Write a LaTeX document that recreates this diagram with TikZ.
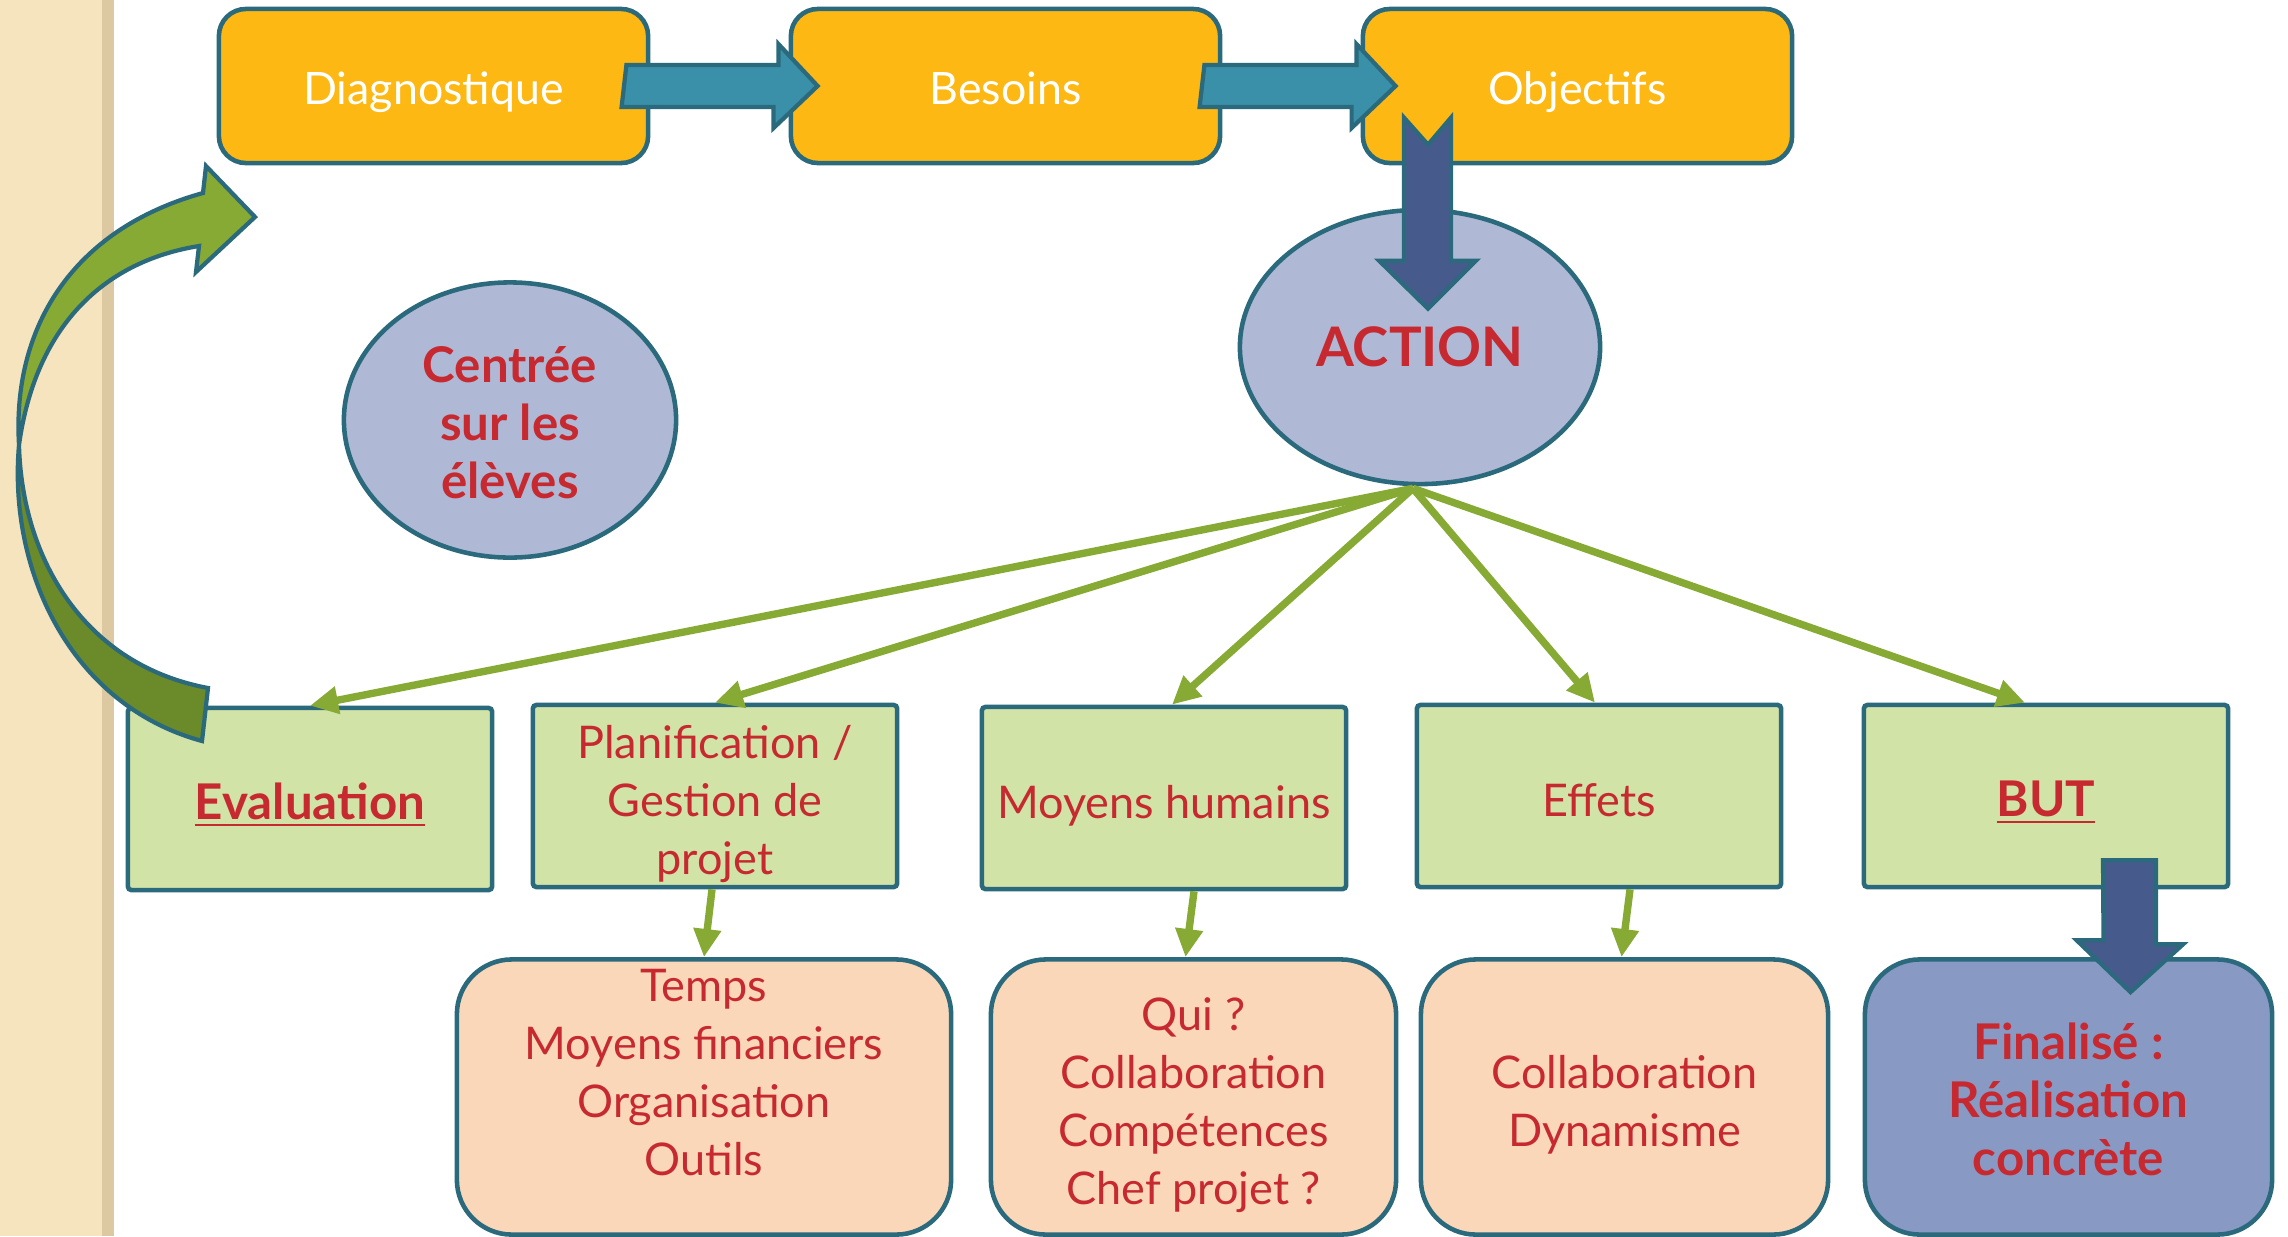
\documentclass[tikz,border=0pt]{standalone}
\usepackage{fontspec}
\setmainfont{Lato}
\usetikzlibrary{shapes.geometric,arrows.meta,calc}
\definecolor{edgec}{HTML}{2A6A7C}
\definecolor{orangec}{HTML}{FDB813}
\definecolor{tealc}{HTML}{3A90A8}
\definecolor{navyc}{HTML}{475A8C}
\definecolor{lavc}{HTML}{AFB9D6}
\definecolor{gfillc}{HTML}{D1E3A7}
\definecolor{peachc}{HTML}{FBD7B9}
\definecolor{blueboxc}{HTML}{8899C4}
\definecolor{redc}{HTML}{C62A30}
\definecolor{lgreenc}{HTML}{86AA34}
\definecolor{dgreenc}{HTML}{6B8A2A}
\definecolor{stripc}{HTML}{F5E4BE}
\definecolor{stripedgec}{HTML}{DCC9A2}
\begin{document}
\begin{tikzpicture}[x=0.01cm,y=-0.01cm,
  lineone/.style={text height=11.8pt,text depth=0pt},
  linetwo/.style={text height=28.3pt,text depth=0pt},
  linethree/.style={text height=44.8pt,text depth=0pt},
  linefour/.style={text height=61.3pt,text depth=0pt},
  linefive/.style={text height=77.8pt,text depth=0pt},
  topbox/.style={draw=edgec,line width=1.3pt,fill=orangec,rounded corners=0.27cm,
    minimum width=4.29cm,minimum height=1.54cm,text=white,font=\fontsize{12.7}{16.5}\selectfont,
    text height=10.8pt,text depth=0pt},
  ovalnode/.style={ellipse,draw=edgec,line width=1.3pt,fill=lavc,text=redc,align=center,
    font=\fontsize{14}{16.5}\selectfont\bfseries},
  gbox/.style={draw=edgec,line width=1.3pt,fill=gfillc,rounded corners=1pt,
    minimum width=3.64cm,minimum height=1.82cm,text=redc,align=center,
    font=\fontsize{12.8}{16.5}\selectfont},
  pbox/.style={draw=edgec,line width=1.3pt,fill=peachc,rounded corners=0.55cm,inner ysep=0pt,
    minimum height=2.75cm,text=redc,align=center,font=\fontsize{12.8}{16.5}\selectfont},
  gline/.style={draw=lgreenc,line width=2.1pt,-{Triangle[length=8pt,width=7.5pt]}},
  blockarrow/.style={draw=edgec,line width=1.2pt}
]
\useasboundingbox (0,0) rectangle (2288,1236);
\fill[white] (0,0) rectangle (2288,1236);
\fill[stripc] (0,0) rectangle (114,1236);
\fill[stripedgec] (102,0) rectangle (114,1236);

% top row
\node[topbox] (diag) at (433.5,86) {Diagnostique};
\node[topbox] (bes) at (1005.5,86) {Besoins};
\node[topbox] (obj) at (1577.5,86) {Objectifs};

% ellipses
\node[ovalnode,minimum width=3.6cm,minimum height=2.74cm,font=\fontsize{15.5}{16.5}\selectfont\bfseries] (act) at (1420,347) {ACTION};
\node[ovalnode,minimum width=3.32cm,minimum height=2.75cm,linethree] (cen) at (510,420) {Centrée\\sur les\\élèves};

% green boxes
\node[gbox,lineone,font=\fontsize{14}{16.5}\selectfont\bfseries] (eval) at (310,799) {\underline{Evaluation}};
\node[gbox,linethree] (plan) at (715,796) {Planification /\\Gestion de\\projet};
\node[gbox,lineone] (moy) at (1164,798) {Moyens humains};
\node[gbox,lineone] (eff) at (1599,796) {Effets};
\node[gbox,lineone,font=\fontsize{14}{16.5}\selectfont\bfseries] (but) at (2046,796) {\underline{BUT}};

% bottom boxes
\node[pbox,minimum width=4.94cm,linefive] (b1) at (704,1097) {Temps\\Moyens financiers\\Organisation\\Outils\\\mbox{}};
\node[pbox,minimum width=4.05cm,linefour] (b2) at (1193.5,1097) {Qui ?\\Collaboration\\Compétences\\Chef projet ?};
\node[pbox,minimum width=4.07cm,linetwo] (b3) at (1624.5,1097) {Collaboration\\Dynamisme};
\node[pbox,minimum width=4.07cm,fill=blueboxc,font=\fontsize{14}{16.5}\selectfont\bfseries,linethree] (fin) at (2068.5,1097) {Finalisé :\\Réalisation\\concrète};

% teal block arrows
\draw[blockarrow,fill=tealc] ($(diag.east)+(-24,-21)$) -- ++(152,0) -- ++(0,-21)
  -- ($(bes.west)+(29,0)$) -- ++(-44,42) -- ++(0,-21) -- ++(-152,0) -- cycle;
\draw[blockarrow,fill=tealc] ($(bes.east)+(-18,-21)$) -- ++(152,0) -- ++(0,-21)
  -- ($(obj.west)+(35,0)$) -- ++(-44,42) -- ++(0,-21) -- ++(-152,0) -- cycle;

% navy arrow Objectifs -> ACTION
\draw[blockarrow,fill=navyc] ($(act.north)+(-16,-90)$) -- ++(24,27) -- ++(23,-27) -- ++(0,143)
  -- ++(25,0) -- ($(act.north)+(8,101)$) -- ++(-49,-48) -- ++(25,0) -- cycle;

% green connectors
\coordinate (hub) at ($(act.south)+(-7,2)$);
\draw[gline] (hub) -- (eval.north);
\draw[gline] (hub) -- (plan.north);
\draw[gline] (hub) -- ($(moy.north)+(8,0)$);
\draw[gline] (hub) -- ($(eff.north)+(-4,0)$);
\draw[gline] (hub) -- ($(but.north)+(-21,0)$);

\draw[gline] ($(plan.south)+(-3,0)$) -- (b1.north);
\draw[gline] ($(moy.south)+(30,0)$) -- ($(b2.north)+(-8,0)$);
\draw[gline] ($(eff.south)+(31,0)$) -- ($(b3.north)+(-3,0)$);

% navy arrow BUT -> Finalise
\draw[blockarrow,fill=navyc] ($(but.south)+(57,-29)$) -- ++(53,0) -- ++(0,84) -- ++(27,0)
  -- ($(fin.north)+(62,35)$) -- ++(-54,-52) -- ++(27,0) -- cycle;

% curved green arrow (Evaluation -> Diagnostique)
\draw[blockarrow,fill=dgreenc] (19,445) .. controls (8,570) and (70,705) .. (202,741)
  -- (208,688) .. controls (85,665) and (22,560) .. (19,445) -- cycle;
\draw[blockarrow,fill=lgreenc] (19,445) .. controls (12,330) and (70,230) .. (203,193)
  -- (206,166) -- (255,217) -- (196,272) -- (199,246)
  .. controls (100,262) and (35,330) .. (19,445) -- cycle;
\end{tikzpicture}
\end{document}
